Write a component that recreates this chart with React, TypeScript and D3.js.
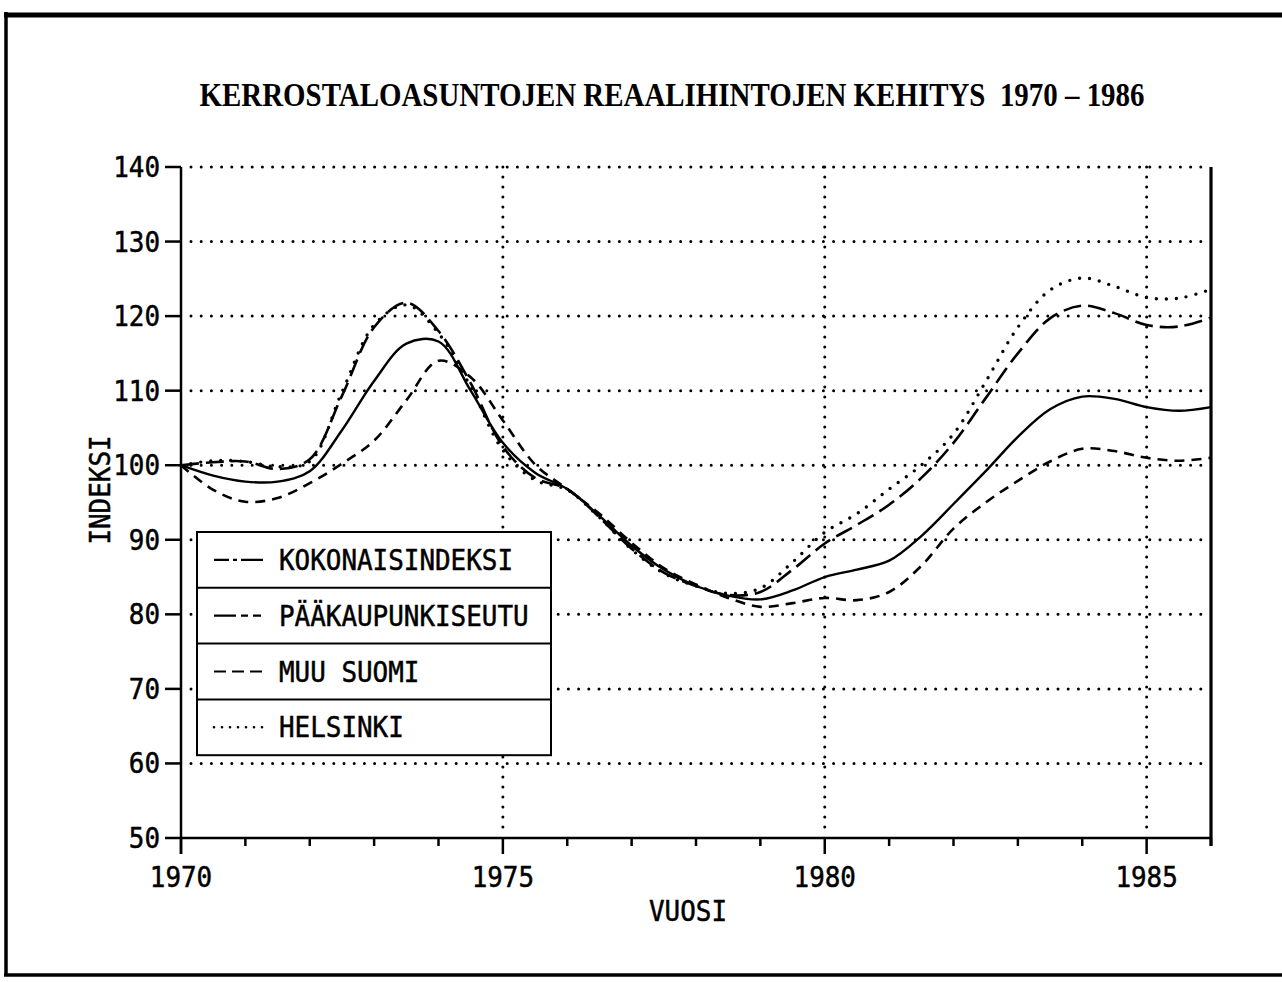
import React from "react";
import * as d3 from "d3";

const width = 1282;
const height = 982;

const years = [
  1970, 1970.5, 1971, 1971.5, 1972, 1972.5, 1973, 1973.5, 1974, 1974.5, 1975,
  1975.5, 1976, 1976.5, 1977, 1977.5, 1978, 1978.5, 1979, 1979.5, 1980, 1980.5,
  1981, 1981.5, 1982, 1982.5, 1983, 1983.5, 1984, 1984.5, 1985, 1985.5, 1986,
];

const kokonaisindeksi = [
  100, 98.6, 97.8, 97.8, 99.2, 104.7, 111.3, 116.3, 116.6, 110, 103, 99, 96.8,
  93.2, 89.2, 86, 83.8, 82.5, 82, 83.2, 85, 86, 87.2, 90.5, 94.8, 99.2, 103.8,
  107.5, 109.2, 108.9, 107.8, 107.3, 107.8,
];

const paakaupunkiseutu = [
  100, 100.4, 100.5, 99.5, 100.8, 109.3, 118.5, 121.8, 118, 111, 102.5, 98.3,
  96.8, 93, 88.8, 85.6, 83.8, 82.6, 83, 86, 89.5, 92, 94.7, 98.3, 103, 109, 115,
  119.7, 121.4, 120.4, 118.8, 118.6, 119.8,
];

const muuSuomi = [
  100, 96.7, 95.1, 95.6, 97.6, 100.2, 103.3, 108.7, 114, 111.8, 106, 100.1,
  96.8, 93.5, 89.6, 86.2, 84, 82.2, 81, 81.5, 82.2, 81.9, 83, 86.5, 91.5, 95,
  97.9, 100.5, 102.2, 101.9, 101, 100.6, 101,
];

const helsinki = [
  100, 100.6, 100.5, 99.8, 100.5, 109.8, 118.8, 121.5, 117.7, 110.5, 102, 98,
  96.7, 93, 88.7, 85.5, 83.8, 82.8, 83.5, 87, 91, 93.5, 96.8, 100, 104.2, 111.2,
  118.5, 123.5, 125.1, 124, 122.5, 122.4, 123.6,
];

const yTicks = [50, 60, 70, 80, 90, 100, 110, 120, 130, 140];
const xLabelYears = [1970, 1975, 1980, 1985];
const xGridYears = [1975, 1980, 1985];
const legendNames = ["KOKONAISINDEKSI", "PÄÄKAUPUNKISEUTU", "MUU SUOMI", "HELSINKI"];

const mono = "'DejaVu Sans Mono', monospace";
const charW = 15.6; // plotter font advance per char

const x = d3.scaleLinear().domain([1970, 1986]).range([181, 1211]);
const y = d3.scaleLinear().domain([50, 140]).range([838, 167]);

const line = d3
  .line<number>()
  .x((_, i) => x(years[i]))
  .y((d) => y(d))
  .curve(d3.curveCatmullRom.alpha(0.5));

// plotter-ish text: tall narrow glyphs
const PlotText = ({ x, y, anchor, children }: any) => {
  const s = String(children);
  return (
    <text
      x={x}
      y={y}
      textAnchor={anchor || "start"}
      fontFamily={mono}
      fontSize={28}
      textLength={s.length * charW}
      lengthAdjust="spacingAndGlyphs"
      stroke="#000"
      strokeWidth={0.5}
    >
      {s}
    </text>
  );
};

const App = () => {
  const series = [
    { values: kokonaisindeksi, dash: undefined, w: 2.4, cap: "butt" },
    { values: paakaupunkiseutu, dash: "18 7", w: 2.6, cap: "butt" },
    { values: muuSuomi, dash: "10 7", w: 2.6, cap: "butt" },
    { values: helsinki, dash: "0 10", w: 3.4, cap: "round" },
  ];

  const legendSamples = ["15 4 4 4 22", "22 5 7 5 8", "12 6 12 6 12", "0 8"];

  const lgX = 197;
  const lgY = 532;
  const lgW = 354;
  const rowH = 55.8;

  const allYears = d3.range(1970, 1987);

  return (
    <svg
      width={width}
      height={height}
      style={{ position: "absolute", left: 0, top: 0, background: "#fff" }}
    >
      <rect x={0} y={0} width={width} height={height} fill="#fff" />
      {/* outer frame */}
      <line x1={6} y1={12} x2={6} y2={976} stroke="#000" strokeWidth={3.5} />
      <line x1={4} y1={15} x2={width} y2={15} stroke="#000" strokeWidth={5} />
      <line x1={4} y1={975} x2={width} y2={975} stroke="#000" strokeWidth={3.5} />

      <text
        x={672}
        y={106}
        textAnchor="middle"
        fontFamily="'Liberation Serif', 'Times New Roman', serif"
        fontWeight="bold"
        fontSize={33}
        textLength={945}
        lengthAdjust="spacingAndGlyphs"
        style={{ whiteSpace: "pre" }}
      >
        {"KERROSTALOASUNTOJEN REAALIHINTOJEN KEHITYS  1970 – 1986"}
      </text>

      {/* grid */}
      {yTicks
        .filter((t) => t > 50)
        .map((t) => (
          <line
            key={"gy" + t}
            x1={x(1970) + 10}
            x2={x(1986) - 4}
            y1={y(t)}
            y2={y(t)}
            stroke="#000"
            strokeWidth={3}
            strokeLinecap="round"
            strokeDasharray="0 10.2"
          />
        ))}
      {xGridYears.map((yr) => (
        <line
          key={"gx" + yr}
          x1={x(yr)}
          x2={x(yr)}
          y1={y(140)}
          y2={y(50) - 8}
          stroke="#000"
          strokeWidth={3}
          strokeLinecap="round"
          strokeDasharray="0 10"
        />
      ))}

      {/* series */}
      {series.map((s, i) => (
        <path
          key={"s" + i}
          d={line(s.values) || ""}
          fill="none"
          stroke="#000"
          strokeWidth={s.w}
          strokeDasharray={s.dash}
          strokeLinecap={s.cap as any}
        />
      ))}

      {/* axes */}
      <line x1={x(1970)} x2={x(1970)} y1={y(140)} y2={y(50) + 16} stroke="#000" strokeWidth={2.5} />
      <line x1={x(1986)} x2={x(1986)} y1={y(140)} y2={y(50) + 8} stroke="#000" strokeWidth={3.2} />
      <line x1={x(1970)} x2={x(1986)} y1={y(50)} y2={y(50)} stroke="#000" strokeWidth={2.5} />
      {yTicks.map((t) => (
        <g key={"yt" + t}>
          <line x1={x(1970) - 16} x2={x(1970)} y1={y(t)} y2={y(t)} stroke="#000" strokeWidth={2.5} />
          <PlotText x={160} y={y(t) + 10} anchor="end">
            {t}
          </PlotText>
        </g>
      ))}
      {allYears.map((yr) => (
        <line
          key={"xt" + yr}
          x1={x(yr)}
          x2={x(yr)}
          y1={y(50)}
          y2={y(50) + (yr % 5 === 0 ? 16 : 8)}
          stroke="#000"
          strokeWidth={2.5}
        />
      ))}
      {xLabelYears.map((yr) => (
        <PlotText key={"xl" + yr} x={x(yr)} y={887} anchor="middle">
          {yr}
        </PlotText>
      ))}

      <PlotText x={688} y={921} anchor="middle">
        VUOSI
      </PlotText>
      <g transform="translate(110,490) rotate(-90)">
        <PlotText x={0} y={0} anchor="middle">
          INDEKSI
        </PlotText>
      </g>

      {/* legend */}
      <rect x={lgX} y={lgY} width={lgW} height={rowH * 4} fill="#fff" stroke="#000" strokeWidth={2} />
      {legendNames.map((name, i) => {
        const cy = lgY + rowH * i + rowH / 2;
        return (
          <g key={"lg" + i}>
            {i > 0 && (
              <line
                x1={lgX}
                x2={lgX + lgW}
                y1={lgY + rowH * i}
                y2={lgY + rowH * i}
                stroke="#000"
                strokeWidth={2}
              />
            )}
            <line
              x1={214}
              x2={263}
              y1={cy}
              y2={cy}
              stroke="#000"
              strokeWidth={i === 3 ? 2.6 : 2.2}
              strokeDasharray={legendSamples[i]}
              strokeLinecap={i === 3 ? "round" : "butt"}
            />
            <PlotText x={279} y={cy + 10}>
              {name}
            </PlotText>
          </g>
        );
      })}
    </svg>
  );
};

export default App;
